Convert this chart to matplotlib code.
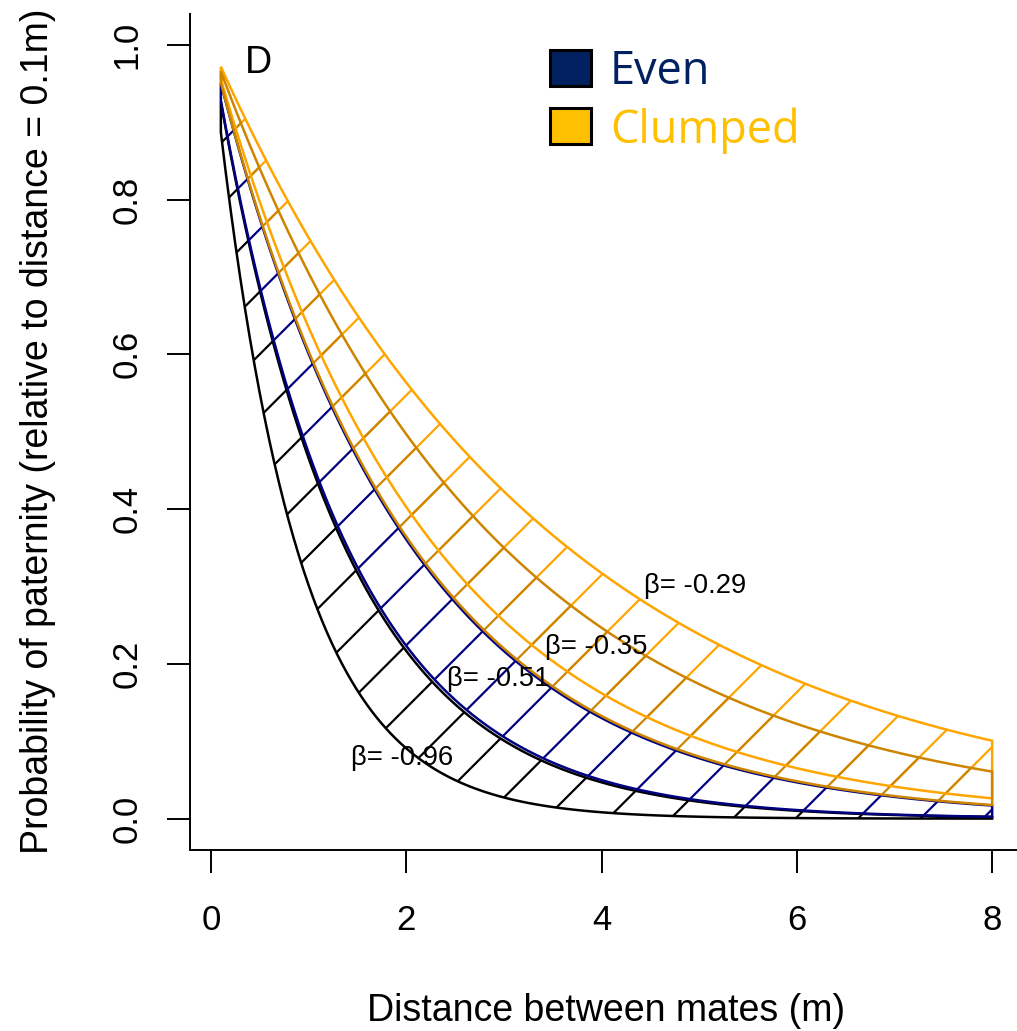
import numpy as np
import matplotlib
matplotlib.use("Agg")
import matplotlib.pyplot as plt
from matplotlib.patches import Polygon, Rectangle
from matplotlib.collections import LineCollection

# ---------------- data ----------------
distance_start = 0.1
distance_end = 8.0
# four hatched bands of exp(beta * distance); lower / upper beta of each band
band_colors = ["black", "#000080", "#FFA500", "#CD8500"]
band_beta_lower = [-1.20, -0.75, -0.455, -0.505]
band_beta_upper = [-0.765, -0.51, -0.287, -0.35]

beta_labels = ["β= -0.96", "β= -0.51", "β= -0.35", "β= -0.29"]
beta_label_x = [1.96, 2.94, 3.95, 4.96]
beta_label_y = [0.079, 0.180, 0.222, 0.300]

x_ticks = [0, 2, 4, 6, 8]
y_ticks = [0.0, 0.2, 0.4, 0.6, 0.8, 1.0]
y_tick_labels = ["0.0", "0.2", "0.4", "0.6", "0.8", "1.0"]

legend_names = ["Even", "Clumped"]
legend_colors = ["#002060", "#FFC000"]

panel_letter = "D"
x_label = "Distance between mates (m)"
y_label = "Probability of paternity (relative to distance = 0.1m)"

# ---------------- figure ----------------
W, H = 1017, 1031
plt.rcParams['font.family'] = ['Liberation Sans', 'DejaVu Sans']
fig = plt.figure(figsize=(W / 100, H / 100), dpi=100)

def fx(px):
    return px / W

def fy(py):
    return 1 - py / H

ax_left, ax_right, ax_top, ax_bottom = 190, 1023, 13.8, 849.6
ax = fig.add_axes([fx(ax_left), fy(ax_bottom), (ax_right - ax_left) / W,
                   (ax_bottom - ax_top) / H])
ax.set_xlim(-0.216, 8.316)
ax.set_ylim(-0.04, 1.04)

for s in ["top", "right"]:
    ax.spines[s].set_visible(False)
for s in ["left", "bottom"]:
    ax.spines[s].set_linewidth(1.4)

ax.set_xticks(x_ticks)
ax.set_xticklabels([str(t) for t in x_ticks])
ax.set_yticks(y_ticks)
ax.set_yticklabels(y_tick_labels, rotation=90, va="center")
ax.tick_params(axis="both", direction="out", length=16.5, width=1.4,
               labelsize=25, colors="black")
ax.tick_params(axis="x", pad=23)
ax.tick_params(axis="y", pad=17)

ax.set_xlabel(x_label, fontsize=27, labelpad=40)
ax.set_ylabel(y_label, fontsize=27, labelpad=39)

# ---------------- bands with hatching ----------------
d = np.linspace(distance_start, distance_end, 160)

# pixel scale for 45 degree (screen) hatch lines
p0 = ax.transData.transform((0, 0))
p1 = ax.transData.transform((1, 1))
sx, sy = p1[0] - p0[0], p1[1] - p0[1]
hatch_shift_px = 62.5
hatch_anchor = 4.064
t = np.array([-1500.0, 1500.0])
ks = np.arange(-40, 40)

for col, bl, bu in zip(band_colors, band_beta_lower, band_beta_upper):
    lower = np.exp(bl * d)
    upper = np.exp(bu * d)
    verts = np.column_stack([np.concatenate([d, d[::-1]]),
                             np.concatenate([lower, upper[::-1]])])
    poly = Polygon(verts, closed=True, facecolor="none", edgecolor=col,
                   linewidth=1.8, zorder=3)
    ax.add_patch(poly)
    segs = []
    for k in ks:
        x0 = hatch_anchor + k * hatch_shift_px / sx
        segs.append(np.column_stack([x0 + t / sx, t / sy]))
    lc = LineCollection(segs, colors=col, linewidths=1.6, zorder=2)
    ax.add_collection(lc)
    lc.set_clip_path(poly)

for txt, x, y in zip(beta_labels, beta_label_x, beta_label_y):
    ax.text(x, y, txt, fontsize=19.8, ha="center", va="center", zorder=5)

ax.text(0.49, 0.976, panel_letter, fontsize=27, ha="center", va="center")

# ---------------- legend (manual) ----------------
sq_x0, sq_w = 549.5, 41
sq_tops = [50, 108]
text_baselines = [84, 143]
for name, colr, top, base in zip(legend_names, legend_colors, sq_tops, text_baselines):
    rect = Rectangle((fx(sq_x0), fy(top + 36)), sq_w / W, 36 / H,
                     transform=fig.transFigure, facecolor=colr,
                     edgecolor="black", linewidth=2.2)
    fig.add_artist(rect)
    fig.text(fx(610), fy(base), name, color=colr, fontsize=32.5,
             family=["Open Sans", "DejaVu Sans"], ha="left", va="baseline")

fig.savefig("out.png", dpi=100)
